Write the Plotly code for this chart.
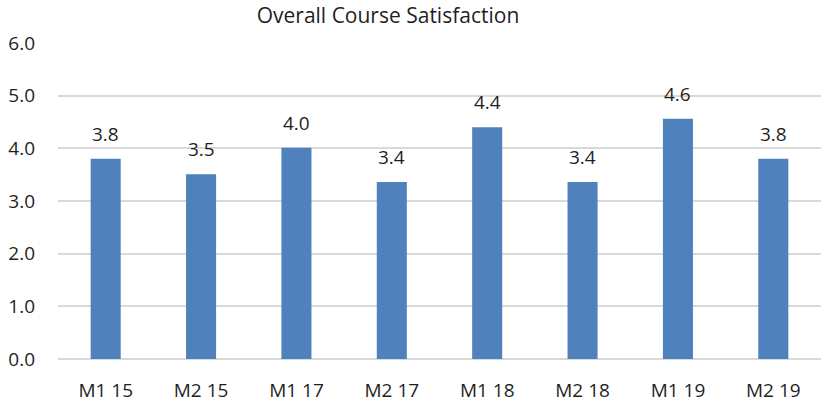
import plotly.graph_objects as go

categories = ["M1 15", "M2 15", "M1 17", "M2 17", "M1 18", "M2 18", "M1 19", "M2 19"]
satisfaction = [3.80, 3.51, 4.01, 3.36, 4.40, 3.36, 4.56, 3.80]
y_ticks = [0, 1, 2, 3, 4, 5, 6]
y_tick_labels = ["0.0", "1.0", "2.0", "3.0", "4.0", "5.0", "6.0"]

FONT = "Open Sans, DejaVu Sans, sans-serif"
TEXT_COLOR = "#1f1f1f"

fig = go.Figure(
    go.Bar(
        x=categories,
        y=satisfaction,
        marker=dict(color="#4F81BD", line=dict(width=0)),
        hoverinfo="x+y",
    )
)

# data labels above each bar, derived from the data arrays
for cat, val in zip(categories, satisfaction):
    fig.add_annotation(
        x=cat,
        y=val,
        text=f"{val:.1f}",
        showarrow=False,
        yanchor="bottom",
        yshift=10,
        font=dict(family=FONT, size=19, color=TEXT_COLOR),
    )

fig.update_layout(
    width=821,
    height=403,
    margin=dict(l=58, r=0, t=43, b=44, autoexpand=False),
    plot_bgcolor="white",
    paper_bgcolor="white",
    bargap=0.685,
    showlegend=False,
    title=dict(
        text="Overall Course Satisfaction",
        x=388 / 821,
        xref="container",
        xanchor="center",
        y=1 - 16 / 403,
        yref="container",
        yanchor="middle",
        font=dict(family=FONT, size=21, color=TEXT_COLOR),
    ),
    xaxis=dict(
        range=[-0.5, 7.5],
        showgrid=False,
        showline=False,
        zeroline=False,
        ticks="",
        automargin=False,
        tickfont=dict(family=FONT, size=19, color=TEXT_COLOR),
        ticklabelstandoff=18,
    ),
    yaxis=dict(
        range=[0, 6],
        tickvals=y_ticks,
        ticktext=y_tick_labels,
        showgrid=True,
        gridcolor="#D9D9D9",
        gridwidth=1.5,
        zeroline=True,
        zerolinecolor="#D9D9D9",
        zerolinewidth=1.5,
        showline=False,
        ticks="",
        automargin=False,
        tickfont=dict(family=FONT, size=19, color=TEXT_COLOR),
        ticklabelstandoff=22,
    ),
)

fig.write_html(
    "out.html",
    config={"displayModeBar": False},
    post_script="document.body.style.margin='0';document.body.style.overflow='hidden';",
)
